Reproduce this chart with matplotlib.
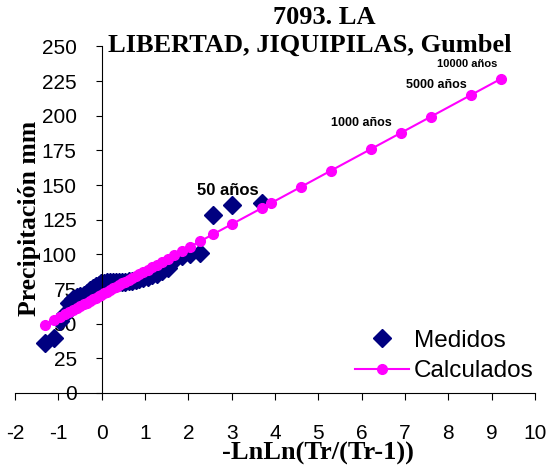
import matplotlib
matplotlib.use("Agg")
import matplotlib.pyplot as plt

plt.rcParams["axes.unicode_minus"] = False

# reduced Gumbel variate of the 40 ranked observations (largest first)
x_medidos = [3.701, 2.998, 2.577, 2.276, 2.040, 1.844, 1.675, 1.528, 1.395, 1.275,
             1.164, 1.060, 0.964, 0.873, 0.786, 0.704, 0.625, 0.548, 0.474, 0.402,
             0.332, 0.263, 0.195, 0.128, 0.061, -0.006, -0.072, -0.138, -0.206, -0.274,
             -0.344, -0.416, -0.491, -0.570, -0.653, -0.744, -0.845, -0.961, -1.105, -1.312]
p_medidos = [137.4, 135.4, 128.2, 100.7, 100.0, 98.5, 96.0, 90.0, 88.0, 86.0,
             85.0, 84.0, 83.0, 82.0, 81.5, 81.0, 80.5, 80.0, 80.0, 80.0,
             80.0, 80.0, 80.0, 80.0, 79.5, 79.0, 78.0, 77.0, 76.0, 74.0,
             72.0, 71.0, 70.0, 69.0, 67.5, 65.0, 57.0, 52.0, 40.0, 36.0]

p_calc_obs = [133.5, 121.7, 114.6, 109.5, 105.5, 102.2, 99.3, 96.8, 94.6, 92.5,
              90.7, 88.9, 87.3, 85.8, 84.3, 82.9, 81.6, 80.3, 79.0, 77.8,
              76.6, 75.4, 74.3, 73.2, 72.0, 70.9, 69.8, 68.7, 67.5, 66.4,
              65.2, 64.0, 62.7, 61.4, 60.0, 58.4, 56.7, 54.8, 52.3, 48.8]

# return periods (50 ... 10000 años)
x_tr = [3.902, 4.600, 5.296, 6.214, 6.907, 7.600, 8.517, 9.210]
p_tr = [136.9, 148.7, 160.5, 176.0, 187.7, 199.4, 214.9, 226.6]

x_calc = sorted(x_medidos + x_tr)
p_calc = sorted(p_calc_obs + p_tr)

etiquetas = ["50 años", "1000 años", "5000 años", "10000 años"]
etq_x = [2.9, 6.0, 7.72, 8.43]
etq_y = [146, 194.5, 222, 237]
etq_size = [12, 9, 9, 8]

serif = "Liberation Serif"
sans = "Liberation Sans"

fig = plt.figure(figsize=(5.55, 4.66), dpi=100)
ax = fig.add_axes([0.027, 0.1567, 0.937, 0.7436])

ax.plot(x_medidos, p_medidos, linestyle="none", marker="D", markersize=9,
        color="#000080", label="Medidos", zorder=2)
ax.plot(x_calc, p_calc, color="#FF00FF", linewidth=1.5, marker="o", markersize=7,
        label="Calculados", zorder=3)

for t, xx, yy, s in zip(etiquetas, etq_x, etq_y, etq_size):
    ax.text(xx, yy, t, ha="center", va="center", fontsize=s, fontweight="bold",
            family=sans)

ax.set_xlim(-2, 10)
ax.set_ylim(0, 250)
ax.set_xticks(range(-2, 11))
ax.set_yticks(range(0, 251, 25))

ax.spines["top"].set_visible(False)
ax.spines["right"].set_visible(False)
ax.spines["left"].set_position(("data", 0))
ax.spines["bottom"].set_position(("data", 0))
ax.tick_params(axis="y", direction="out", length=4, pad=14, labelsize=15)
ax.tick_params(axis="x", direction="out", length=5, pad=17, labelsize=15)
for lab in ax.get_xticklabels() + ax.get_yticklabels():
    lab.set_family(sans)

fig.text(0.585, 0.963, "7093. LA", ha="center", va="center", family=serif,
         fontweight="bold", fontsize=19)
fig.text(0.558, 0.903, "LIBERTAD, JIQUIPILAS, Gumbel", ha="center", va="center",
         family=serif, fontweight="bold", fontsize=19)
fig.text(0.054, 0.532, "Precipitación mm", rotation=90, ha="center", va="center",
         family=serif, fontweight="bold", fontsize=18.5)
fig.text(0.573, 0.026, "-LnLn(Tr/(Tr-1))", ha="center", va="center",
         family=serif, fontweight="bold", fontsize=19)

fig.legend(loc="upper left", bbox_to_anchor=(0.64, 0.292), frameon=False,
           prop={"family": sans, "size": 17.5}, handlelength=2.2, handletextpad=0.2,
           labelspacing=0.35, borderaxespad=0, borderpad=0)

fig.savefig("out.png", dpi=100)
